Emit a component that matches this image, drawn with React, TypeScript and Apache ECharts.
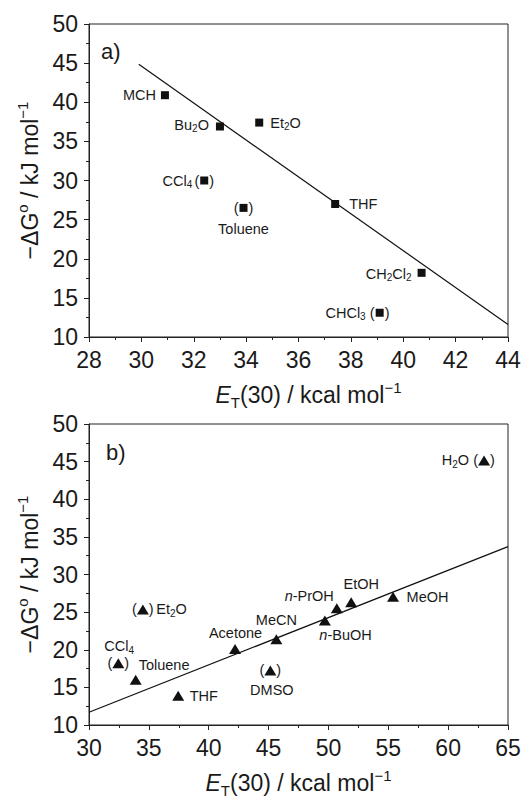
import React, { useEffect, useRef } from 'react';
import * as echarts from 'echarts';

// ---------- data ----------
const topNames = ['MCH', 'Bu₂O', 'Et₂O', 'CCl₄', 'Toluene', 'THF', 'CH₂Cl₂', 'CHCl₃'];
const topET = [30.9, 33.0, 34.5, 32.4, 33.9, 37.4, 40.7, 39.1];
const topDG = [40.9, 36.9, 37.4, 30.0, 26.5, 27.0, 18.2, 13.1];
const topBracketed = ['CCl₄', 'Toluene', 'CHCl₃'];
const topFitET = [29.9, 44];
const topFitDG = [44.85, 11.6];

const botNames = ['H₂O', 'MeOH', 'EtOH', 'n-PrOH', 'n-BuOH', 'MeCN', 'Acetone', 'DMSO', 'Et₂O', 'CCl₄', 'Toluene', 'THF'];
const botET = [63.0, 55.4, 51.9, 50.7, 49.7, 45.65, 42.2, 45.15, 34.5, 32.45, 33.9, 37.45];
const botDG = [45.15, 27.05, 26.3, 25.5, 23.9, 21.4, 20.1, 17.25, 25.35, 18.2, 16.0, 13.9];
const botBracketed = ['H₂O', 'DMSO', 'Et₂O', 'CCl₄'];
const botFitET = [30, 65];
const botFitDG = [11.7, 33.7];

const topXRange = [28, 44];
const topXStep = 2;
const botXRange = [30, 65];
const botXStep = 5;
const yRange = [10, 50];
const yStep = 5;

const panelLabels = ['a)', 'b)'];

// ---------- styles ----------
const FONT = '"Liberation Sans", Arial, Helvetica, sans-serif';
const INK = '#1a1a1a';
const LINE = '#222';

type Place = { align: 'left' | 'center' | 'right'; dx: number; dy: number };
const topPlace: Record<string, Place> = {
  'MCH': { align: 'right', dx: -9, dy: 0 },
  'Bu₂O': { align: 'right', dx: -11, dy: -2 },
  'Et₂O': { align: 'left', dx: 11, dy: 0 },
  'CCl₄': { align: 'right', dx: -12, dy: 0 },
  'Toluene': { align: 'center', dx: 0, dy: 21 },
  'THF': { align: 'left', dx: 14, dy: 0 },
  'CH₂Cl₂': { align: 'right', dx: -10, dy: 1 },
  'CHCl₃': { align: 'right', dx: -14, dy: 0 },
};
const botPlace: Record<string, Place> = {
  'H₂O': { align: 'right', dx: -15, dy: 0 },
  'MeOH': { align: 'left', dx: 13.5, dy: 0 },
  'EtOH': { align: 'center', dx: 10, dy: -18 },
  'n-PrOH': { align: 'right', dx: -3, dy: -12.5 },
  'n-BuOH': { align: 'left', dx: -5.5, dy: 15 },
  'MeCN': { align: 'center', dx: 0, dy: -19 },
  'Acetone': { align: 'center', dx: 0.5, dy: -15.5 },
  'DMSO': { align: 'center', dx: 1.5, dy: 20 },
  'Et₂O': { align: 'left', dx: 13.5, dy: 0 },
  'CCl₄': { align: 'left', dx: -14, dy: -17 },
  'Toluene': { align: 'left', dx: 3, dy: -14.5 },
  'THF': { align: 'left', dx: 11.5, dy: 0 },
};

function richName(name: string): string {
  let out = '';
  let buf = '';
  const flush = () => {
    if (buf) {
      out += `{n|${buf}}`;
      buf = '';
    }
  };
  let s = name;
  if (s.startsWith('n-')) {
    out += '{i|n}';
    s = s.slice(1);
  }
  for (const ch of s) {
    const code = ch.charCodeAt(0);
    if (code >= 0x2080 && code <= 0x2089) {
      flush();
      out += `{s|${code - 0x2080}}`;
    } else buf += ch;
  }
  flush();
  return out;
}

const labelRich = {
  n: { fontSize: 14.5, lineHeight: 18, fontFamily: FONT, color: INK },
  i: { fontSize: 14.5, lineHeight: 18, fontFamily: FONT, color: INK, fontStyle: 'italic' },
  s: { fontSize: 10, lineHeight: 7, fontFamily: FONT, color: INK, verticalAlign: 'bottom' },
};

const axisFont = 23;
const axisRich = {
  n: { fontSize: axisFont, lineHeight: 30, fontFamily: FONT, color: INK },
  i: { fontSize: axisFont, lineHeight: 30, fontFamily: FONT, color: INK, fontStyle: 'italic' },
  sup: { fontSize: 15, lineHeight: 15, fontFamily: FONT, color: INK, verticalAlign: 'top' },
  sub: { fontSize: 15, lineHeight: 11, fontFamily: FONT, color: INK, verticalAlign: 'bottom' },
};

const xName = '{i|E}{sub|T}{n|(30) / kcal mol}{sup|−1}';
const yName = '{n|−ΔG}{sup|o}{n| / kJ mol}{sup|−1}';

function makeX(gridIndex: number, range: number[], step: number, padLeft: number) {
  return {
    gridIndex,
    type: 'value',
    min: range[0],
    max: range[1],
    interval: step,
    axisLine: { show: true, onZero: false, lineStyle: { color: LINE, width: 1 } },
    axisTick: { show: true, inside: false, length: 5, lineStyle: { color: LINE, width: 1 } },
    minorTick: { show: true, splitNumber: 2, length: 3, lineStyle: { color: LINE, width: 1 } },
    splitLine: { show: false },
    minorSplitLine: { show: false },
    axisLabel: { fontSize: axisFont, color: INK, fontFamily: FONT, margin: 11, showMinLabel: true, showMaxLabel: true, hideOverlap: false },
    name: xName,
    nameLocation: 'middle',
    nameGap: 43,
    nameTextStyle: { rich: axisRich, padding: [0, 0, 0, padLeft] },
  };
}

function makeY(gridIndex: number) {
  return {
    gridIndex,
    type: 'value',
    min: yRange[0],
    max: yRange[1],
    interval: yStep,
    axisLine: { show: true, onZero: false, lineStyle: { color: LINE, width: 1 } },
    axisTick: { show: true, inside: false, length: 5, lineStyle: { color: LINE, width: 1 } },
    minorTick: { show: true, splitNumber: 2, length: 3, lineStyle: { color: LINE, width: 1 } },
    splitLine: { show: false },
    minorSplitLine: { show: false },
    axisLabel: { fontSize: axisFont, color: INK, fontFamily: FONT, margin: 11, showMinLabel: true, showMaxLabel: true },
    name: yName,
    nameLocation: 'middle',
    nameGap: 36,
    nameTextStyle: { rich: axisRich },
  };
}

function pointSeries(idx: number, names: string[], xs: number[], ys: number[], place: Record<string, Place>, symbol: string, size: number | number[]) {
  return {
    type: 'scatter',
    xAxisIndex: idx,
    yAxisIndex: idx,
    symbol,
    symbolSize: size,
    silent: true,
    itemStyle: { color: '#111', opacity: 1 },
    z: 3,
    data: names.map((nm, i) => {
      const p = place[nm];
      return {
        name: nm,
        value: [xs[i], ys[i]],
        label: {
          show: true,
          position: 'inside',
          align: p.align,
          verticalAlign: 'middle',
          offset: [p.dx, p.dy],
          formatter: richName(nm),
          rich: labelRich,
          opacity: 1,
        },
      };
    }),
  };
}

function parenSeries(idx: number, names: string[], xs: number[], ys: number[], bracketed: string[], gap: number) {
  const data: any[] = [];
  names.forEach((nm, i) => {
    if (bracketed.includes(nm)) data.push({ name: nm, value: [xs[i], ys[i]] });
  });
  return {
    type: 'scatter',
    xAxisIndex: idx,
    yAxisIndex: idx,
    symbol: 'circle',
    symbolSize: 1,
    silent: true,
    itemStyle: { color: 'rgba(0,0,0,0)' },
    z: 4,
    label: {
      show: true,
      position: 'inside',
      opacity: 1,
      formatter: '{p|(}{g|\u00a0}{p|)}',
      rich: {
        p: { fontSize: 14.5, fontFamily: FONT, color: INK, lineHeight: 18 },
        g: { width: gap, fontSize: 14.5, lineHeight: 18 },
      },
    },
    data,
  };
}

function fitSeries(idx: number, xs: number[], ys: number[]) {
  return {
    type: 'line',
    xAxisIndex: idx,
    yAxisIndex: idx,
    symbol: 'none',
    silent: true,
    z: 2,
    lineStyle: { color: '#111', width: 1.2 },
    data: xs.map((x, i) => [x, ys[i]]),
  };
}

export default function App() {
  const ref = useRef<HTMLDivElement>(null);
  useEffect(() => {
    if (!ref.current) return;
    const chart = echarts.init(ref.current, undefined, { renderer: 'svg' });
    chart.setOption({
      animation: false,
      backgroundColor: '#fff',
      grid: [
        { left: 89, top: 24, width: 419, height: 313, show: true, borderColor: LINE, borderWidth: 1, backgroundColor: 'transparent' },
        { left: 89, top: 424, width: 419, height: 311, show: true, borderColor: LINE, borderWidth: 1, backgroundColor: 'transparent' },
      ],
      xAxis: [makeX(0, topXRange, topXStep, 20), makeX(1, botXRange, botXStep, 0)],
      yAxis: [makeY(0), makeY(1)],
      graphic: [
        { type: 'text', x: 101, y: 51, style: { text: panelLabels[0], fontSize: 22, fontFamily: FONT, fill: INK, verticalAlign: 'middle' } },
        { type: 'text', x: 106, y: 452.5, style: { text: panelLabels[1], fontSize: 22, fontFamily: FONT, fill: INK, verticalAlign: 'middle' } },
      ],
      series: [
        fitSeries(0, topFitET, topFitDG),
        pointSeries(0, topNames, topET, topDG, topPlace, 'rect', 8),
        parenSeries(0, topNames, topET, topDG, topBracketed, 10),
        fitSeries(1, botFitET, botFitDG),
        pointSeries(1, botNames, botET, botDG, botPlace, 'triangle', [12, 10]),
        parenSeries(1, botNames, botET, botDG, botBracketed, 12),
      ],
    });
    return () => chart.dispose();
  }, []);
  return <div ref={ref} style={{ position: 'absolute', left: 0, top: 0, width: 525, height: 799 }} />;
}
